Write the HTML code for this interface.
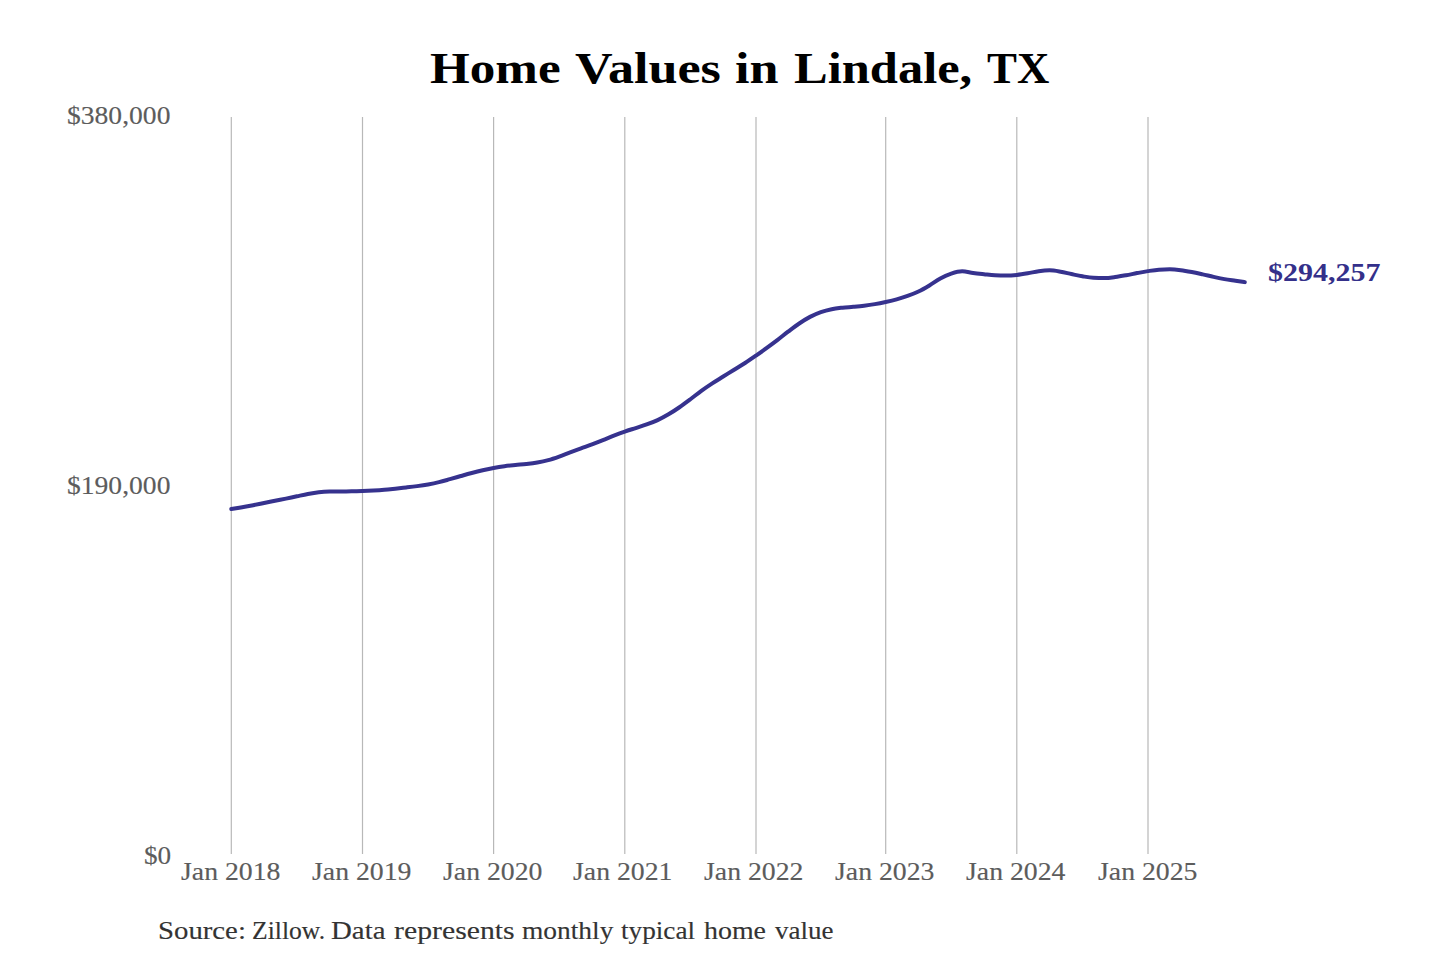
<!DOCTYPE html>
<html><head><meta charset="utf-8"><title>Home Values in Lindale, TX</title>
<style>
html,body{margin:0;padding:0;background:#fff;}
body{width:1440px;height:960px;position:relative;overflow:hidden;}
svg{position:absolute;left:0;top:0;}
.t{position:absolute;font-family:"Liberation Serif",serif;line-height:1;white-space:nowrap;transform-origin:0 0;}
</style></head><body>
<svg width="1440" height="960" viewBox="0 0 1440 960">
<line x1="231.3" y1="117.0" x2="231.3" y2="854.0" stroke="#b8b8b8" stroke-width="1.2"/>
<line x1="362.5" y1="117.0" x2="362.5" y2="854.0" stroke="#b8b8b8" stroke-width="1.2"/>
<line x1="493.6" y1="117.0" x2="493.6" y2="854.0" stroke="#b8b8b8" stroke-width="1.2"/>
<line x1="624.8" y1="117.0" x2="624.8" y2="854.0" stroke="#b8b8b8" stroke-width="1.2"/>
<line x1="756.0" y1="117.0" x2="756.0" y2="854.0" stroke="#b8b8b8" stroke-width="1.2"/>
<line x1="885.7" y1="117.0" x2="885.7" y2="854.0" stroke="#b8b8b8" stroke-width="1.2"/>
<line x1="1016.8" y1="117.0" x2="1016.8" y2="854.0" stroke="#b8b8b8" stroke-width="1.2"/>
<line x1="1148.0" y1="117.0" x2="1148.0" y2="854.0" stroke="#b8b8b8" stroke-width="1.2"/>
<path d="M231.30,509.07C234.94,508.45 238.59,507.84 242.23,507.19C245.88,506.55 249.52,505.88 253.17,505.18C256.81,504.49 260.46,503.75 264.10,503.01C267.74,502.28 271.39,501.53 275.03,500.79C278.68,500.05 282.32,499.34 285.97,498.59C289.61,497.84 293.26,497.06 296.90,496.31C300.54,495.55 304.19,494.72 307.83,494.06C311.48,493.40 315.12,492.77 318.77,492.36C322.41,491.94 326.06,491.70 329.70,491.58C333.34,491.47 336.99,491.45 340.63,491.42C344.28,491.38 347.92,491.40 351.57,491.36C355.21,491.32 358.86,491.21 362.50,491.08C366.14,490.94 369.78,490.76 373.43,490.54C377.07,490.32 380.71,490.07 384.35,489.75C387.99,489.44 391.63,489.03 395.27,488.65C398.92,488.27 402.56,487.88 406.20,487.46C409.84,487.04 413.48,486.63 417.12,486.12C420.77,485.62 424.41,485.10 428.05,484.44C431.69,483.77 435.33,483.03 438.98,482.15C442.62,481.28 446.26,480.18 449.90,479.16C453.54,478.15 457.18,477.06 460.83,476.04C464.47,475.02 468.11,473.99 471.75,473.04C475.39,472.08 479.03,471.16 482.68,470.31C486.32,469.46 489.96,468.63 493.60,467.94C497.24,467.26 500.89,466.68 504.53,466.19C508.18,465.70 511.82,465.38 515.47,465.01C519.11,464.65 522.76,464.41 526.40,464.00C530.04,463.58 533.69,463.16 537.33,462.51C540.98,461.86 544.62,461.10 548.27,460.11C551.91,459.12 555.56,457.85 559.20,456.56C562.84,455.27 566.49,453.74 570.13,452.38C573.78,451.02 577.42,449.71 581.07,448.38C584.71,447.05 588.36,445.78 592.00,444.41C595.64,443.04 599.29,441.61 602.93,440.15C606.58,438.70 610.22,437.12 613.87,435.70C617.51,434.27 621.16,432.88 624.80,431.60C628.44,430.33 632.09,429.23 635.73,428.04C639.38,426.85 643.02,425.80 646.67,424.47C650.31,423.15 653.96,421.78 657.60,420.09C661.24,418.40 664.89,416.47 668.53,414.32C672.18,412.18 675.82,409.75 679.47,407.24C683.11,404.73 686.76,401.98 690.40,399.25C694.04,396.53 697.69,393.54 701.33,390.89C704.98,388.24 708.62,385.77 712.27,383.38C715.91,380.99 719.56,378.84 723.20,376.56C726.84,374.29 730.49,371.98 734.13,369.73C737.78,367.48 741.42,365.40 745.07,363.04C748.71,360.69 752.36,358.14 756.00,355.60C759.60,353.10 763.21,350.54 766.81,347.92C770.41,345.30 774.01,342.65 777.62,339.90C781.22,337.14 784.82,334.13 788.42,331.39C792.03,328.66 795.63,325.88 799.23,323.47C802.84,321.05 806.44,318.79 810.04,316.89C813.64,315.00 817.25,313.40 820.85,312.11C824.45,310.83 828.06,309.91 831.66,309.17C835.26,308.44 838.86,308.10 842.47,307.70C846.07,307.30 849.67,307.10 853.28,306.76C856.88,306.42 860.48,306.09 864.08,305.66C867.69,305.22 871.29,304.73 874.89,304.13C878.49,303.53 882.10,302.81 885.70,302.03C889.34,301.25 892.98,300.45 896.62,299.44C900.27,298.44 903.91,297.31 907.55,295.99C911.19,294.66 914.83,293.26 918.48,291.50C922.12,289.74 925.76,287.59 929.40,285.41C933.04,283.24 936.68,280.43 940.33,278.46C943.97,276.49 947.61,274.79 951.25,273.60C954.89,272.41 958.53,271.30 962.17,271.30C965.82,271.30 969.46,272.44 973.10,272.91C976.74,273.38 980.38,273.75 984.02,274.14C987.67,274.52 991.31,274.98 994.95,275.22C998.59,275.47 1002.23,275.60 1005.88,275.60C1009.52,275.60 1013.16,275.35 1016.80,274.97C1020.44,274.60 1024.09,273.97 1027.73,273.34C1031.38,272.72 1035.02,271.73 1038.67,271.23C1042.31,270.73 1045.96,270.35 1049.60,270.35C1053.24,270.35 1056.89,271.06 1060.53,271.68C1064.18,272.30 1067.82,273.29 1071.47,274.06C1075.11,274.82 1078.76,275.64 1082.40,276.26C1086.04,276.88 1089.69,277.64 1093.33,277.79C1096.98,277.94 1100.62,278.01 1104.27,278.01C1107.91,278.01 1111.56,277.48 1115.20,277.01C1118.84,276.55 1122.49,275.89 1126.13,275.24C1129.78,274.58 1133.42,273.77 1137.07,273.09C1140.71,272.40 1144.36,271.69 1148.00,271.12C1151.64,270.56 1155.29,269.94 1158.93,269.70C1162.58,269.46 1166.22,269.34 1169.87,269.34C1173.51,269.34 1177.16,269.73 1180.80,270.17C1184.44,270.61 1188.09,271.31 1191.73,272.01C1195.38,272.71 1199.02,273.54 1202.67,274.35C1206.31,275.16 1209.96,276.07 1213.60,276.87C1217.24,277.67 1220.89,278.49 1224.53,279.14C1228.18,279.79 1231.82,280.24 1235.47,280.78C1238.58,281.24 1241.69,281.69 1244.80,282.14" fill="none" stroke="#36328e" stroke-width="4.0" stroke-linecap="round" stroke-linejoin="round"/>
</svg>
<div class="t" style="left:429.93px;top:46.78px;font-size:44.10px;transform:scaleX(1.1594);color:#000;font-weight:bold;">Home</div>
<div class="t" style="left:575.21px;top:46.78px;font-size:44.10px;transform:scaleX(1.1828);color:#000;font-weight:bold;">Values</div>
<div class="t" style="left:735.32px;top:46.78px;font-size:44.10px;transform:scaleX(1.1815);color:#000;font-weight:bold;">in</div>
<div class="t" style="left:793.94px;top:46.78px;font-size:44.10px;transform:scaleX(1.1452);color:#000;font-weight:bold;">Lindale,</div>
<div class="t" style="left:986.96px;top:46.78px;font-size:44.10px;transform:scaleX(1.0170);color:#000;font-weight:bold;">TX</div>
<div class="t" style="left:67.30px;top:103.41px;font-size:26.10px;transform:scaleX(1.0570);color:#5c5c5c;font-weight:normal;-webkit-text-stroke:0.15px #5c5c5c;">$380,000</div>
<div class="t" style="left:67.30px;top:472.91px;font-size:26.10px;transform:scaleX(1.0570);color:#5c5c5c;font-weight:normal;-webkit-text-stroke:0.15px #5c5c5c;">$190,000</div>
<div class="t" style="left:143.80px;top:842.57px;font-size:25.90px;transform:scaleX(1.0500);color:#5c5c5c;font-weight:normal;-webkit-text-stroke:0.15px #5c5c5c;">$0</div>
<div class="t" style="left:180.50px;top:858.71px;font-size:25.50px;transform:scaleX(1.0890);color:#5c5c5c;font-weight:normal;-webkit-text-stroke:0.15px #5c5c5c;">Jan 2018</div>
<div class="t" style="left:311.70px;top:858.71px;font-size:25.50px;transform:scaleX(1.0890);color:#5c5c5c;font-weight:normal;-webkit-text-stroke:0.15px #5c5c5c;">Jan 2019</div>
<div class="t" style="left:443.10px;top:858.71px;font-size:25.50px;transform:scaleX(1.0890);color:#5c5c5c;font-weight:normal;-webkit-text-stroke:0.15px #5c5c5c;">Jan 2020</div>
<div class="t" style="left:572.60px;top:858.71px;font-size:25.50px;transform:scaleX(1.0890);color:#5c5c5c;font-weight:normal;-webkit-text-stroke:0.15px #5c5c5c;">Jan 2021</div>
<div class="t" style="left:703.60px;top:858.71px;font-size:25.50px;transform:scaleX(1.0890);color:#5c5c5c;font-weight:normal;-webkit-text-stroke:0.15px #5c5c5c;">Jan 2022</div>
<div class="t" style="left:835.10px;top:858.71px;font-size:25.50px;transform:scaleX(1.0890);color:#5c5c5c;font-weight:normal;-webkit-text-stroke:0.15px #5c5c5c;">Jan 2023</div>
<div class="t" style="left:966.00px;top:858.71px;font-size:25.50px;transform:scaleX(1.0890);color:#5c5c5c;font-weight:normal;-webkit-text-stroke:0.15px #5c5c5c;">Jan 2024</div>
<div class="t" style="left:1097.50px;top:858.71px;font-size:25.50px;transform:scaleX(1.0890);color:#5c5c5c;font-weight:normal;-webkit-text-stroke:0.15px #5c5c5c;">Jan 2025</div>
<div class="t" style="left:157.73px;top:918.07px;font-size:25.60px;transform:scaleX(1.1240);color:#333333;font-weight:normal;-webkit-text-stroke:0.15px #333333;">Source:</div>
<div class="t" style="left:252.05px;top:918.07px;font-size:25.60px;transform:scaleX(1.0000);color:#333333;font-weight:normal;-webkit-text-stroke:0.15px #333333;">Zillow.</div>
<div class="t" style="left:330.85px;top:918.07px;font-size:25.60px;transform:scaleX(1.1280);color:#333333;font-weight:normal;-webkit-text-stroke:0.15px #333333;">Data</div>
<div class="t" style="left:393.62px;top:918.07px;font-size:25.60px;transform:scaleX(1.1634);color:#333333;font-weight:normal;-webkit-text-stroke:0.15px #333333;">represents</div>
<div class="t" style="left:521.96px;top:918.07px;font-size:25.60px;transform:scaleX(1.0714);color:#333333;font-weight:normal;-webkit-text-stroke:0.15px #333333;">monthly</div>
<div class="t" style="left:621.43px;top:918.07px;font-size:25.60px;transform:scaleX(1.0642);color:#333333;font-weight:normal;-webkit-text-stroke:0.15px #333333;">typical</div>
<div class="t" style="left:703.93px;top:918.07px;font-size:25.60px;transform:scaleX(1.0906);color:#333333;font-weight:normal;-webkit-text-stroke:0.15px #333333;">home</div>
<div class="t" style="left:775.00px;top:918.07px;font-size:25.60px;transform:scaleX(1.0550);color:#333333;font-weight:normal;-webkit-text-stroke:0.15px #333333;">value</div>
<div class="t" style="left:1267.80px;top:259.96px;font-size:25.20px;transform:scaleX(1.1900);color:#34308a;font-weight:bold;">$294,257</div>
</body></html>
